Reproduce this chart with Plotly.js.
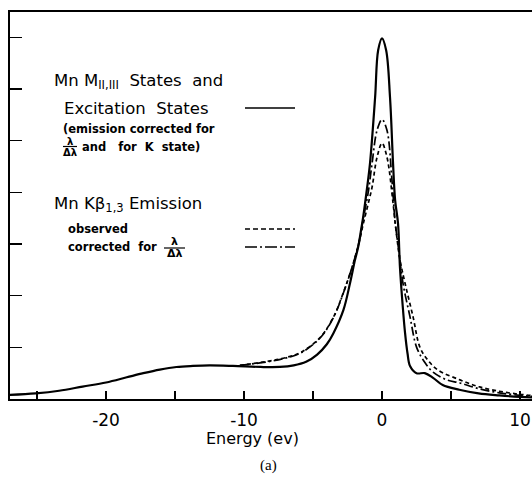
<!DOCTYPE html>
<html>
<head>
<meta charset="utf-8">
<script src="https://cdn.plot.ly/plotly-3.0.1.min.js"></script>
<style>html,body{margin:0;padding:0;background:#fff;}#chart{width:532px;height:482px;}</style>
</head>
<body>
<div id="chart"></div>
<script>
// ---- data ----
const statesX = [-27, -25.1, -23.4, -21.7, -20, -18.5, -17.3, -16.1, -14.9, -13.7, -12.5, -10.8, -8.8, -7.4, -6.4, -5.5, -4.7, -4.0, -3.53, -2.8, -2.32, -1.96, -1.72, -1.5, -1.35, -1.1, -0.87, -0.5, -0.28, 0, 0.3, 0.58, 0.8, 0.95, 1.16, 1.3, 1.5, 1.67, 1.85, 2.03, 2.5, 3.1, 3.7, 4.4, 5.6, 7, 8.5, 10, 10.9];
const statesY = [0.08, 0.11, 0.16, 0.24, 0.32, 0.42, 0.50, 0.57, 0.62, 0.64, 0.65, 0.64, 0.62, 0.62, 0.65, 0.72, 0.86, 1.06, 1.27, 1.72, 2.24, 2.69, 2.95, 3.3, 3.55, 4.05, 4.56, 5.84, 6.75, 6.98, 6.75, 5.84, 4.56, 3.85, 3.4, 2.55, 1.8, 1.28, 0.88, 0.64, 0.50, 0.50, 0.41, 0.27, 0.18, 0.11, 0.07, 0.04, 0.03];

const correctedX = [-10.3, -8.3, -7, -5.9, -4.49, -3.53, -2.8, -2.17, -1.81, -1.6, -1.35, -1.0, -0.72, -0.36, 0, 0.36, 0.72, 0.94, 1.2, 1.52, 2.03, 2.51, 3.12, 3.7, 4.7, 5.65, 7, 8.5, 10, 10.9];
const correctedY = [0.65, 0.72, 0.79, 0.89, 1.18, 1.57, 2.05, 2.55, 2.88, 3.12, 3.5, 4.0, 4.56, 5.2, 5.41, 5.2, 4.24, 3.46, 2.9, 2.24, 1.59, 1.0, 0.70, 0.52, 0.37, 0.31, 0.2, 0.12, 0.07, 0.05];

const observedX = [-10.3, -8.3, -7, -5.9, -4.49, -3.53, -2.8, -2.17, -1.81, -1.6, -1.35, -1.0, -0.72, -0.36, 0, 0.36, 0.8, 1.0, 1.3, 1.67, 2.25, 2.75, 3.33, 4.06, 5.65, 7, 8.5, 10, 10.9];
const observedY = [0.65, 0.73, 0.80, 0.90, 1.19, 1.58, 2.06, 2.55, 2.88, 3.1, 3.4, 3.78, 4.1, 4.68, 4.95, 4.68, 3.79, 3.3, 2.7, 2.24, 1.59, 1.0, 0.75, 0.56, 0.37, 0.24, 0.15, 0.09, 0.07];

const xTickVals = [-20, -10, 0, 10];
const xTickText = ["-20", "-10", "0", "10"];
const yTickVals = [1, 2, 3, 4, 5, 6, 7];

// ---- layout helpers (pixel -> paper) ----
const L = 10, R = 532, T = 12, B = 399;
const px = v => (v - L) / (R - L);
const py = v => (B - v) / (B - T);
const SANS = "DejaVu Sans, sans-serif";
const nb = "\u00a0";

function ann(text, x, y, size, opts) {
  return Object.assign({
    text: text, xref: "paper", yref: "paper", x: px(x), y: py(y),
    xanchor: "left", yanchor: "middle", showarrow: false,
    font: {family: SANS, size: size, color: "#000"}
  }, opts || {});
}

const traces = [
  {x: statesX, y: statesY, type: "scatter", mode: "lines",
   line: {color: "#000", width: 2.2, shape: "spline", smoothing: 1}, hoverinfo: "skip"},
  {x: correctedX, y: correctedY, type: "scatter", mode: "lines",
   line: {color: "#000", width: 1.7, dash: "9px,3px,2px,3px", shape: "spline", smoothing: 1}, hoverinfo: "skip"},
  {x: observedX, y: observedY, type: "scatter", mode: "lines",
   line: {color: "#000", width: 1.7, dash: "4px,3px", shape: "spline", smoothing: 1}, hoverinfo: "skip"}
];

const layout = {
  width: 532, height: 482,
  margin: {l: L, r: 532 - R, t: T, b: 482 - B},
  paper_bgcolor: "#fff", plot_bgcolor: "#fff",
  showlegend: false,
  font: {family: SANS, color: "#000"},
  xaxis: {
    range: [-26.96, 10.87], showgrid: false, zeroline: false,
    showline: true, linecolor: "#000", linewidth: 2, mirror: true,
    ticks: "inside", ticklen: 8, tickwidth: 1.6, tickcolor: "#000",
    tickmode: "array", tickvals: xTickVals, ticktext: xTickText,
    ticklabelstandoff: 5,
    minor: {ticks: "inside", dtick: 5, tick0: 0, ticklen: 8, tickwidth: 1.6, tickcolor: "#000", showgrid: false},
    tickfont: {family: SANS, size: 17, color: "#000"}
  },
  yaxis: {
    range: [0, 7.49], showgrid: false, zeroline: false,
    showline: true, linecolor: "#000", linewidth: 2,
    ticks: "inside", ticklen: 12, tickwidth: 1.6, tickcolor: "#000",
    tickmode: "array", tickvals: yTickVals, showticklabels: false
  },
  shapes: [
    {type: "line", xref: "paper", yref: "paper", x0: px(245), x1: px(295), y0: py(108), y1: py(108), line: {color: "#000", width: 1.6}},
    {type: "line", xref: "paper", yref: "paper", x0: px(245), x1: px(295), y0: py(229), y1: py(229), line: {color: "#000", width: 1.6, dash: "5px,3px"}},
    {type: "line", xref: "paper", yref: "paper", x0: px(245), x1: px(295), y0: py(247), y1: py(247), line: {color: "#000", width: 1.6, dash: "12px,3px,2px,3px"}},
    {type: "line", xref: "paper", yref: "paper", x0: px(63), x1: px(77), y0: py(146.5), y1: py(146.5), line: {color: "#000", width: 1.2}},
    {type: "line", xref: "paper", yref: "paper", x0: px(164), x1: px(185), y0: py(248), y1: py(248), line: {color: "#000", width: 1.2}}
  ],
  annotations: [
    ann("Mn M<sub>II,III</sub>" + nb + " States" + nb + nb + "and", 52, 82, 16.5),
    ann("Excitation" + nb + nb + "States", 62, 108, 16.5),
    ann("<b>(emission corrected for</b>", 61, 129, 11.5),
    ann("<b>λ</b>", 70, 141, 10, {xanchor: "center"}),
    ann("<b>Δλ</b>", 70, 152, 10, {xanchor: "center"}),
    ann("<b>and" + nb + nb + " for" + nb + " K" + nb + " state)</b>", 80, 147, 11.5),
    ann("Mn Kβ<sub>1,3</sub> Emission", 52, 204, 16.5),
    ann("<b>observed</b>", 66, 229, 11.5),
    ann("<b>corrected" + nb + " for</b>", 66, 247, 11.5),
    ann("<b>λ</b>", 174.5, 241, 11, {xanchor: "center"}),
    ann("<b>Δλ</b>", 174.5, 254, 11, {xanchor: "center"}),
    ann("Energy (ev)", 252, 438, 16, {xanchor: "center"}),
    ann("(a)", 268, 465, 15, {xanchor: "center", font: {family: "Liberation Serif, serif", size: 15, color: "#000"}})
  ]
};

Plotly.newPlot("chart", traces, layout, {staticPlot: true, displayModeBar: false});
</script>
</body>
</html>
